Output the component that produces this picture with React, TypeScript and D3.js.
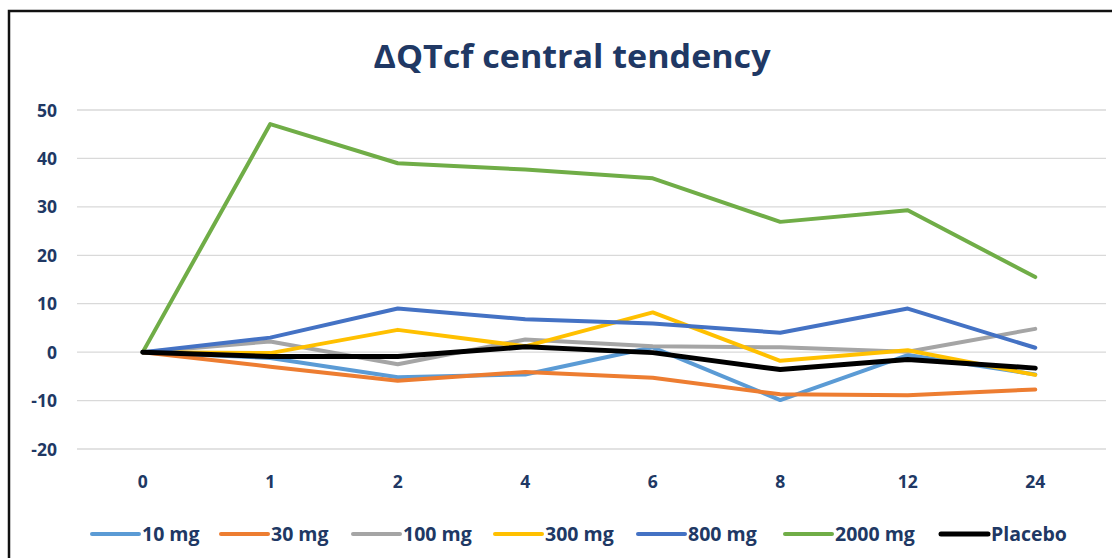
import React, { useEffect, useRef } from 'react';
import * as d3 from 'd3';

const hours = ['0', '1', '2', '4', '6', '8', '12', '24'];
const yTicks = [-20, -10, 0, 10, 20, 30, 40, 50];

const mg10 = [0, -1.2, -5.2, -4.6, 1.0, -9.9, -0.6, -4.6];
const mg30 = [0, -3.0, -5.9, -4.1, -5.3, -8.7, -8.9, -7.7];
const mg100 = [0, 2.2, -2.5, 2.6, 1.2, 1.0, 0.1, 4.8];
const mg300 = [0, -0.2, 4.6, 1.2, 8.2, -1.8, 0.4, -4.7];
const mg800 = [0, 3.0, 9.0, 6.8, 5.9, 4.0, 9.0, 0.9];
const mg2000 = [0, 47.1, 39.0, 37.7, 35.9, 26.9, 29.3, 15.5];
const placebo = [0, -0.9, -0.9, 1.1, -0.1, -3.6, -1.5, -3.3];

const seriesNames = ['10 mg', '30 mg', '100 mg', '300 mg', '800 mg', '2000 mg', 'Placebo'];
const seriesValues = [mg10, mg30, mg100, mg300, mg800, mg2000, placebo];
const seriesColors = ['#5B9BD5', '#ED7D31', '#A5A5A5', '#FFC000', '#4472C4', '#70AD47', '#000000'];

const W = 1112;
const H = 558;
const textColor = '#203864';
const font = '"Open Sans", sans-serif';

export default function App() {
  const ref = useRef<SVGSVGElement>(null);

  useEffect(() => {
    const svg = d3.select(ref.current);
    svg.selectAll('*').remove();

    svg.append('rect').attr('width', W).attr('height', H).attr('fill', '#fff');

    // frame (top + left edge visible)
    svg.append('path')
      .attr('d', `M9,${H} V11 H${W}`)
      .attr('fill', 'none')
      .attr('stroke', '#111')
      .attr('stroke-width', 2.5);

    svg.append('text')
      .attr('x', 572)
      .attr('y', 68)
      .attr('text-anchor', 'middle')
      .attr('font-family', font)
      .attr('font-weight', 700)
      .attr('font-size', 32)
      .attr('textLength', 397)
      .attr('lengthAdjust', 'spacingAndGlyphs')
      .attr('fill', textColor)
      .text('ΔQTcf central tendency');

    const x = d3.scalePoint().domain(hours).range([79, 1099]).padding(0.5);
    const y = d3.scaleLinear().domain([-20, 50]).range([449, 110]);

    // gridlines
    svg.append('g')
      .selectAll('line')
      .data(yTicks)
      .join('line')
      .attr('x1', 77)
      .attr('x2', 1106)
      .attr('y1', (d) => y(d))
      .attr('y2', (d) => y(d))
      .attr('stroke', '#D9D9D9')
      .attr('stroke-width', 1.3);

    svg.append('g')
      .selectAll('text')
      .data(yTicks)
      .join('text')
      .attr('x', 57)
      .attr('y', (d) => y(d) + 6.5)
      .attr('text-anchor', 'end')
      .attr('font-family', font)
      .attr('font-weight', 700)
      .attr('font-size', 17.5)
      .attr('fill', textColor)
      .text((d) => d);

    svg.append('g')
      .selectAll('text')
      .data(hours)
      .join('text')
      .attr('x', (d) => x(d)!)
      .attr('y', 488)
      .attr('text-anchor', 'middle')
      .attr('font-family', font)
      .attr('font-weight', 700)
      .attr('font-size', 17.5)
      .attr('fill', textColor)
      .text((d) => d);

    const line = d3.line<number>()
      .x((_, i) => x(hours[i])!)
      .y((d) => y(d));

    svg.append('g')
      .selectAll('path')
      .data(seriesValues)
      .join('path')
      .attr('d', (d) => line(d))
      .attr('fill', 'none')
      .attr('stroke', (_, i) => seriesColors[i])
      .attr('stroke-width', (_, i) => (i === 6 ? 5 : 4))
      .attr('stroke-linejoin', 'round')
      .attr('stroke-linecap', 'round');

    // legend
    const legendX = [92, 221, 353, 495, 638, 785, 941];
    const leg = svg.append('g');
    seriesNames.forEach((name, i) => {
      const lx = legendX[i];
      leg.append('line')
        .attr('x1', lx)
        .attr('x2', lx + 47)
        .attr('y1', 534)
        .attr('y2', 534)
        .attr('stroke', seriesColors[i])
        .attr('stroke-width', i === 6 ? 5 : 4)
        .attr('stroke-linecap', 'round');
      leg.append('text')
        .attr('x', lx + 50)
        .attr('y', 541)
        .attr('font-family', font)
        .attr('font-weight', 700)
        .attr('font-size', 19.5)
        .attr('fill', textColor)
        .text(name);
    });
  }, []);

  return (
    <svg
      ref={ref}
      width={W}
      height={H}
      style={{ position: 'absolute', left: 0, top: 0 }}
    />
  );
}
